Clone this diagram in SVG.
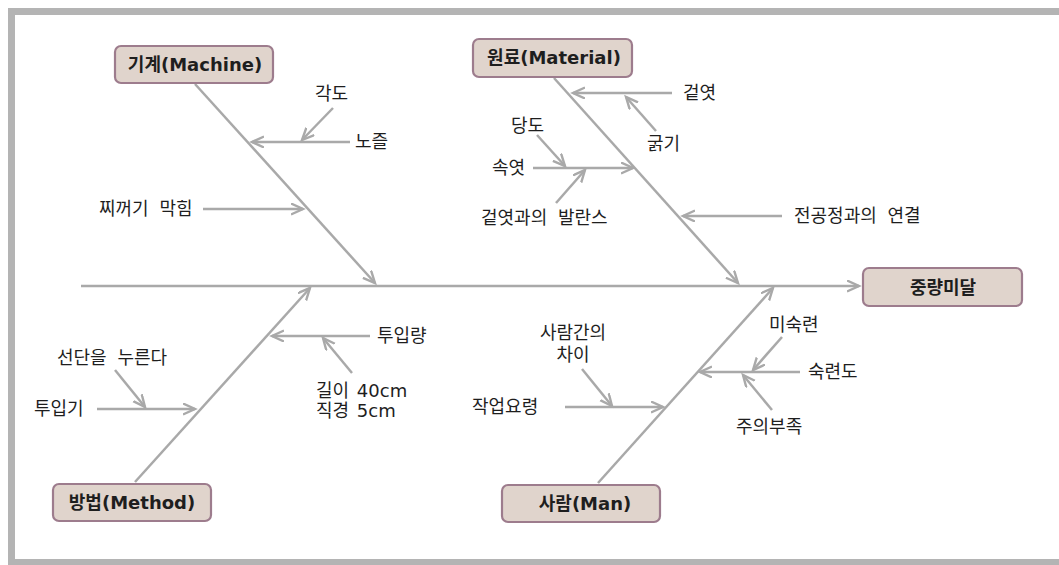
<svg xmlns="http://www.w3.org/2000/svg" width="1059" height="565" viewBox="0 0 1059 565">
<defs>
<marker id="ah" markerUnits="userSpaceOnUse" markerWidth="16" markerHeight="16" refX="12" refY="6" orient="auto">
<path d="M0,0.5 L12,6 L0,11.5" fill="none" stroke="#a9a9a9" stroke-width="2.4"/>
</marker>
<style>
.ln{stroke:#a9a9a9;stroke-width:2.5;fill:none;marker-end:url(#ah)}
.box{fill:#e0d4cc;stroke:#9d7c8d;stroke-width:2.2}
.bt{font-family:"DejaVu Sans","Noto Sans CJK KR",sans-serif;font-size:18px;font-weight:bold;fill:#1e1e1e;text-anchor:middle}
.t{font-family:"DejaVu Sans","Noto Sans CJK KR",sans-serif;font-size:18px;fill:#1e1e1e;word-spacing:5px}
.tl{word-spacing:2px}
</style>
</defs>
<rect width="1059" height="565" fill="#fff"/>
<g id="frame" fill="#b4b4b4">
<rect x="8" y="8" width="1051" height="7"/>
<rect x="8" y="8" width="7" height="557"/>
<rect x="8" y="559" width="1051" height="6"/>
</g>
<g id="connectors">
<line class="ln" x1="81" y1="286" x2="859" y2="286"/>
<line class="ln" x1="195" y1="84" x2="375" y2="283"/>
<line class="ln" x1="554" y1="78" x2="738" y2="283"/>
<line class="ln" x1="135" y1="482" x2="310" y2="288"/>
<line class="ln" x1="598" y1="483" x2="773" y2="288"/>
<line class="ln" x1="350" y1="142" x2="252" y2="142"/>
<line class="ln" x1="333" y1="108" x2="302" y2="140"/>
<line class="ln" x1="203" y1="209" x2="303" y2="209"/>
<line class="ln" x1="672" y1="93" x2="573" y2="93"/>
<line class="ln" x1="656" y1="131" x2="626" y2="97"/>
<line class="ln" x1="533" y1="168" x2="633" y2="168"/>
<line class="ln" x1="537" y1="135" x2="565" y2="166"/>
<line class="ln" x1="556" y1="203" x2="585" y2="170"/>
<line class="ln" x1="782" y1="216" x2="683" y2="216"/>
<line class="ln" x1="370" y1="336" x2="272" y2="336"/>
<line class="ln" x1="352" y1="373" x2="323" y2="338"/>
<line class="ln" x1="115" y1="370" x2="145" y2="407"/>
<line class="ln" x1="97" y1="409" x2="195" y2="409"/>
<line class="ln" x1="582" y1="369" x2="612" y2="406"/>
<line class="ln" x1="565" y1="407" x2="663" y2="407"/>
<line class="ln" x1="800" y1="372" x2="700" y2="372"/>
<line class="ln" x1="782" y1="337" x2="753" y2="370"/>
<line class="ln" x1="772" y1="410" x2="743" y2="375"/>
</g>
<g id="effect">
<rect class="box" x="863" y="268" width="159" height="38" rx="6"/>
<text class="bt" x="943" y="293.5">중량미달</text>
</g>
<g id="machine">
<rect class="box" x="115" y="46" width="158" height="37" rx="6"/>
<text class="bt" x="195" y="71">기계(Machine)</text>
</g>
<g id="material">
<rect class="box" x="473" y="39" width="159" height="38" rx="6"/>
<text class="bt" x="554" y="64">원료(Material)</text>
</g>
<g id="method">
<rect class="box" x="53" y="484" width="158" height="37" rx="6"/>
<text class="bt" x="132" y="509">방법(Method)</text>
</g>
<g id="man">
<rect class="box" x="502" y="485" width="158" height="37" rx="6"/>
<text class="bt" x="585" y="510">사람(Man)</text>
</g>
<g id="machine-causes">
<text class="t" x="315" y="100">각도</text>
<text class="t" x="355" y="148">노즐</text>
<text class="t" x="99" y="215">찌꺼기 막힘</text>
</g>
<g id="material-causes">
<text class="t" x="683" y="99">겉엿</text>
<text class="t" x="647" y="150">굵기</text>
<text class="t" x="511" y="132">당도</text>
<text class="t" x="492" y="174">속엿</text>
<text class="t" x="481" y="224">겉엿과의 발란스</text>
<text class="t" x="794" y="222">전공정과의 연결</text>
</g>
<g id="method-causes">
<text class="t" x="377" y="342">투입량</text>
<text class="t tl" x="316" y="397">길이 40cm</text>
<text class="t tl" x="316" y="417">직경 5cm</text>
<text class="t" x="57" y="364">선단을 누른다</text>
<text class="t" x="34" y="415">투입기</text>
</g>
<g id="man-causes">
<text class="t" x="573" y="339" text-anchor="middle">사람간의</text>
<text class="t" x="573" y="361" text-anchor="middle">차이</text>
<text class="t" x="472" y="413">작업요령</text>
<text class="t" x="769" y="331">미숙련</text>
<text class="t" x="808" y="378">숙련도</text>
<text class="t" x="736" y="433">주의부족</text>
</g>
</svg>
